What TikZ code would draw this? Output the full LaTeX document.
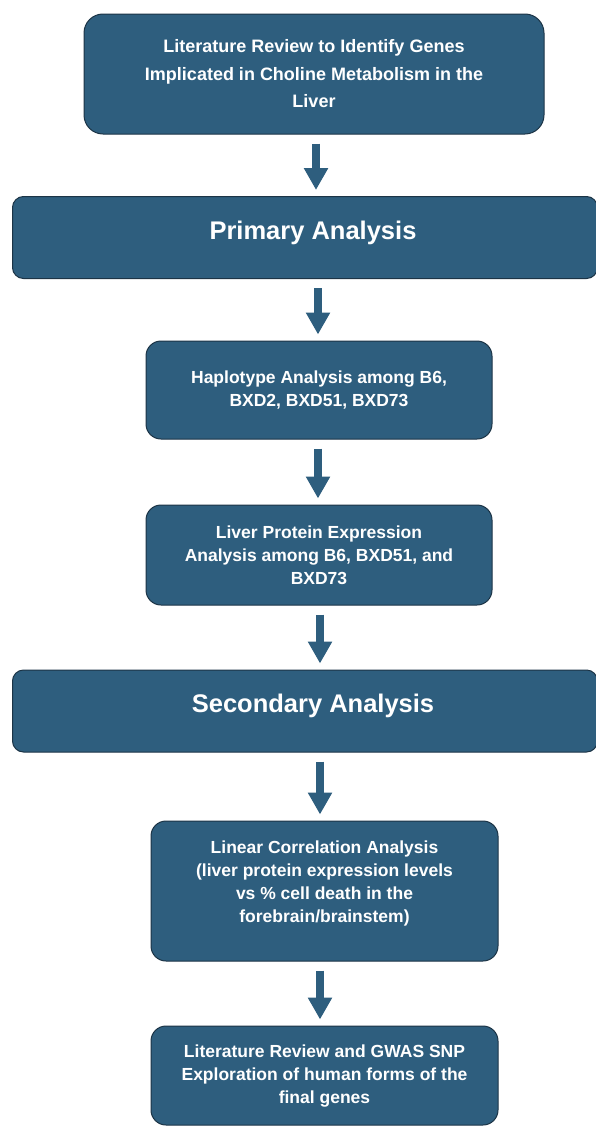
\documentclass[tikz,border=0pt]{standalone}
\usepackage{fontspec}
\setmainfont{Liberation Sans}
\usetikzlibrary{arrows.meta}
\definecolor{boxfill}{RGB}{46,94,126}
\definecolor{boxline}{RGB}{28,52,70}
\definecolor{arrowcol}{RGB}{46,94,126}
\tikzset{
  box/.style={draw=boxline, line width=1pt, fill=boxfill, rounded corners=15pt,
    text=white, align=center, font=\bfseries\fontsize{17.5}{23}\selectfont, inner sep=0pt},
  headbox/.style={box, rounded corners=11pt},
  headtext/.style={text=white, font=\bfseries\fontsize{25.5}{30}\selectfont, inner sep=0pt},
  bodytext/.style={text=white, align=center, font=\bfseries\fontsize{17.5}{23}\selectfont, inner sep=0pt},
  topbox/.style={box, rounded corners=19pt, font=\bfseries\fontsize{18}{27.5}\selectfont},
  arr/.style={draw=arrowcol, line width=8pt, -{Triangle[width=23pt,length=22pt]},
    shorten <=9pt, shorten >=6pt}
}
\begin{document}
\begin{tikzpicture}[x=1pt,y=1pt]
\useasboundingbox (0,0) rectangle (595,-1127);
\node[topbox, minimum width=460, minimum height=120] (b1) at (314,-74)
  {Literature Review to Identify Genes\\Implicated in Choline Metabolism in the\\Liver};
\node[headbox, minimum width=585, minimum height=82] (b2) at (305,-237.5) {};
\node[headtext] (b2t) at (313,-233) {Primary Analysis};
\node[box, minimum width=346, minimum height=98] (b3) at (319,-390)
  {Haplotype Analysis among B6,\\BXD2, BXD51, BXD73};
\node[box, minimum width=346, minimum height=100] (b4) at (319,-555)
  {Liver Protein Expression\\Analysis among B6, BXD51, and\\BXD73};
\node[headbox, minimum width=585, minimum height=82] (b5) at (305,-711) {};
\node[headtext] (b5t) at (313,-706) {Secondary Analysis};
\node[box, minimum width=347, minimum height=140] (b6) at (324.5,-891) {};
\node[bodytext] (b6t) at (324.5,-883)
  {Linear Correlation Analysis\\(liver protein expression levels\\vs \% cell death in the\\forebrain/brainstem)};
\node[box, minimum width=347, minimum height=99] (b7) at (324.5,-1075.5)
  {Literature Review and GWAS SNP\\Exploration of human forms of the\\final genes};
\draw[arr] ([xshift=2pt]b1.south) -- ([xshift=2pt]b1.south |- b2.north);
\draw[arr] ([xshift=-1pt]b2.south -| b3.north) -- ([xshift=-1pt]b3.north);
\draw[arr] ([xshift=-1pt]b3.south) -- ([xshift=-1pt]b4.north);
\draw[arr] ([xshift=1pt]b4.south) -- ([xshift=1pt]b4.south |- b5.north);
\draw[arr] ([xshift=-4.5pt]b5.south -| b6.north) -- ([xshift=-4.5pt]b6.north);
\draw[arr] ([xshift=-4.5pt]b6.south) -- ([xshift=-4.5pt]b7.north);
\end{tikzpicture}
\end{document}
